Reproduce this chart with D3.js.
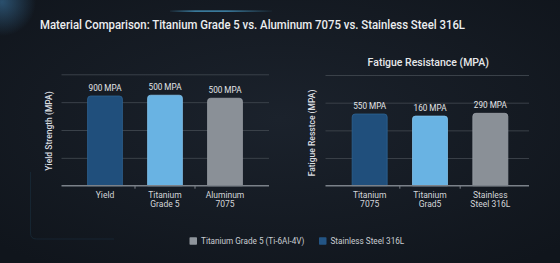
<!DOCTYPE html>
<html><head><meta charset="utf-8">
<script src="https://cdn.jsdelivr.net/npm/d3@7"></script>
<style>html,body{margin:0;padding:0;background:#141a22;overflow:hidden}svg{display:block}</style>
</head><body>
<svg id="c" width="560" height="263"></svg>
<script>
const titleText = "Material Comparison: Titanium Grade 5 vs. Aluminum 7075 vs. Stainless Steel 316L";
const yieldCategories = [["Yield"], ["Titanium", "Grade 5"], ["Aluminum", "7075"]];
const yieldValues = [805, 812, 785];
const yieldValueLabels = ["900 MPA", "500 MPA", "500 MPA"];
const yieldTicks = [0, 250, 500, 750, 1000];
const fatigueCategories = [["Titanium", "7075"], ["Titanium", "Grad5"], ["Stainless", "Steel 316L"]];
const fatigueValues = [518, 503, 523];
const fatigueValueLabels = ["550 MPA", "160 MPA", "290 MPA"];
const fatigueTicks = [0, 200, 400, 600, 800];
const legendItems = ["Titanium Grade 5 (Ti-6Al-4V)", "Stainless Steel 316L"];

const barColors = ["#204f7c", "#69b3e3", "#8a9097"];
const barStroke = ["#2d6393", "#82c3ec", "#9aa0a7"];
const legendColors = ["#8f959c", "#235585"];

const svg = d3.select("#c");
const defs = svg.append("defs");
const bg = defs.append("radialGradient").attr("id", "bg").attr("cx", "50%").attr("cy", "45%").attr("r", "70%");
bg.append("stop").attr("offset", "0%").attr("stop-color", "#1b222c");
bg.append("stop").attr("offset", "100%").attr("stop-color", "#10151c");
const glow = defs.append("radialGradient").attr("id", "glow");
glow.append("stop").attr("offset", "0%").attr("stop-color", "#3f7fb0").attr("stop-opacity", 0.55);
glow.append("stop").attr("offset", "100%").attr("stop-color", "#3f7fb0").attr("stop-opacity", 0);
const lineG = defs.append("linearGradient").attr("id", "lineG");
lineG.append("stop").attr("offset", "0%").attr("stop-color", "#4fb0e0").attr("stop-opacity", 0.1);
lineG.append("stop").attr("offset", "25%").attr("stop-color", "#4fb0e0").attr("stop-opacity", 0.9);
lineG.append("stop").attr("offset", "55%").attr("stop-color", "#4fb0e0").attr("stop-opacity", 0.9);
lineG.append("stop").attr("offset", "100%").attr("stop-color", "#4fb0e0").attr("stop-opacity", 0.05);

svg.append("rect").attr("width", 560).attr("height", 263).attr("fill", "url(#bg)");
svg.append("circle").attr("cx", 2).attr("cy", 2).attr("r", 34).attr("fill", "url(#glow)");
svg.append("rect").attr("x", 170).attr("y", 10.5).attr("width", 102).attr("height", 1.2).attr("fill", "url(#lineG)");
// faint decorative panel outline
svg.append("path").attr("d", "M30.5,172 L30.5,233 Q30.5,239 36.5,239 L114,239")
  .attr("fill", "none").attr("stroke", "#1a3040").attr("stroke-width", 0.8).attr("opacity", 0.7);

svg.append("text").attr("x", 40).attr("y", 29).text(titleText)
  .attr("font-family", "Roboto, sans-serif").attr("font-weight", 500).attr("font-size", 13.5)
  .attr("fill", "#eceef0").attr("textLength", 425).attr("lengthAdjust", "spacingAndGlyphs");

function drawChart(cfg) {
  const g = svg.append("g");
  const y = d3.scaleLinear().domain(cfg.domain).range([cfg.y0, cfg.y1]);
  const x = d3.scaleBand().domain(d3.range(cfg.values.length)).range(cfg.bandRange).paddingInner(0.42).paddingOuter(0.21);
  const grid = g.append("g").attr("transform", `translate(${cfg.gx0},0)`)
    .call(d3.axisLeft(y).tickValues(cfg.ticks.slice(1)).tickSize(-(cfg.gx1 - cfg.gx0)).tickFormat(""));
  grid.select(".domain").remove();
  grid.selectAll("line").attr("stroke", "#3a4149").attr("stroke-width", 1);
  const r = 3;
  g.selectAll(".bar").data(cfg.values).join("path")
    .attr("d", (v, i) => {
      const x0 = x(i), w = x.bandwidth(), top = y(v), base = y(0);
      return `M${x0},${base} L${x0},${top + r} Q${x0},${top} ${x0 + r},${top} L${x0 + w - r},${top} Q${x0 + w},${top} ${x0 + w},${top + r} L${x0 + w},${base} Z`;
    })
    .attr("fill", (v, i) => barColors[i]).attr("stroke", (v, i) => barStroke[i]).attr("stroke-width", 0.8);
  g.selectAll(".vl").data(cfg.values).join("text")
    .attr("x", (v, i) => x(i) + x.bandwidth() / 2).attr("y", v => y(v) - 5)
    .attr("text-anchor", "middle").attr("font-family", "Roboto, sans-serif").attr("font-size", 8.2)
    .attr("fill", "#e2e4e7").text((v, i) => cfg.valueLabels[i]);
  const base = g.append("g").attr("transform", `translate(0,${y(0)})`);
  base.append("line").attr("x1", cfg.gx0).attr("x2", cfg.gx1).attr("stroke", "#7b8189").attr("stroke-width", 1.6);
  const bounds = d3.range(1, cfg.values.length).map(i => x(i) - x.step() * x.paddingInner() / 2);
  base.selectAll(".tk").data(bounds).join("line").attr("x1", d => d).attr("x2", d => d)
    .attr("y1", 0).attr("y2", 3).attr("stroke", "#7b8189").attr("stroke-width", 1);
  const cl = g.selectAll(".cl").data(cfg.categories).join("text")
    .attr("text-anchor", "middle").attr("font-family", "Roboto, sans-serif").attr("font-size", 8.5)
    .attr("fill", "#d3d6da");
  cl.each(function (lines, i) {
    d3.select(this).selectAll("tspan").data(lines).join("tspan")
      .attr("x", x(i) + x.bandwidth() / 2).attr("y", (d, j) => 198 + j * 9.3).text(d => d);
  });
  g.append("text").attr("transform", `translate(${cfg.ylx},${cfg.yly}) rotate(-90)`)
    .attr("text-anchor", "middle").attr("dy", "0.35em").attr("font-family", "Roboto, sans-serif")
    .attr("font-weight", 500).attr("font-size", 8.5).attr("fill", "#dadde0").text(cfg.yLabel);
  if (cfg.title) {
    g.append("text").attr("x", (cfg.gx0 + cfg.gx1) / 2 + 1).attr("y", 66).attr("text-anchor", "middle")
      .attr("font-family", "Roboto, sans-serif").attr("font-weight", 500).attr("font-size", 10.5)
      .attr("fill", "#e6e8ea").text(cfg.title);
  }
}

drawChart({
  values: yieldValues, valueLabels: yieldValueLabels, categories: yieldCategories, ticks: yieldTicks,
  domain: [0, 1000], y0: 185.7, y1: 74.3, bandRange: [75, 255], gx0: 61.5, gx1: 269,
  ylx: 49, yly: 131, yLabel: "Yield Strength (MPA)"
});
drawChart({
  values: fatigueValues, valueLabels: fatigueValueLabels, categories: fatigueCategories, ticks: fatigueTicks,
  domain: [0, 800], y0: 185.7, y1: 75, bandRange: [339.5, 520.5], gx0: 325.5, gx1: 529,
  ylx: 312, yly: 133, yLabel: "Fatigue Resstce (MPA)", title: "Fatigue Resistance (MPA)"
});

const lg = svg.append("g").attr("transform", "translate(0,241)");
const lx = [189.5, 319];
legendItems.forEach((t, i) => {
  lg.append("rect").attr("x", lx[i]).attr("y", -3.8).attr("width", 7.5).attr("height", 7.5).attr("rx", 0.8)
    .attr("fill", legendColors[i]);
  lg.append("text").attr("x", lx[i] + 11.5).attr("y", 0).attr("dy", "0.35em")
    .attr("font-family", "Roboto, sans-serif").attr("font-size", 8.2).attr("fill", "#c9cdd1").text(t);
});
</script>
</body></html>
